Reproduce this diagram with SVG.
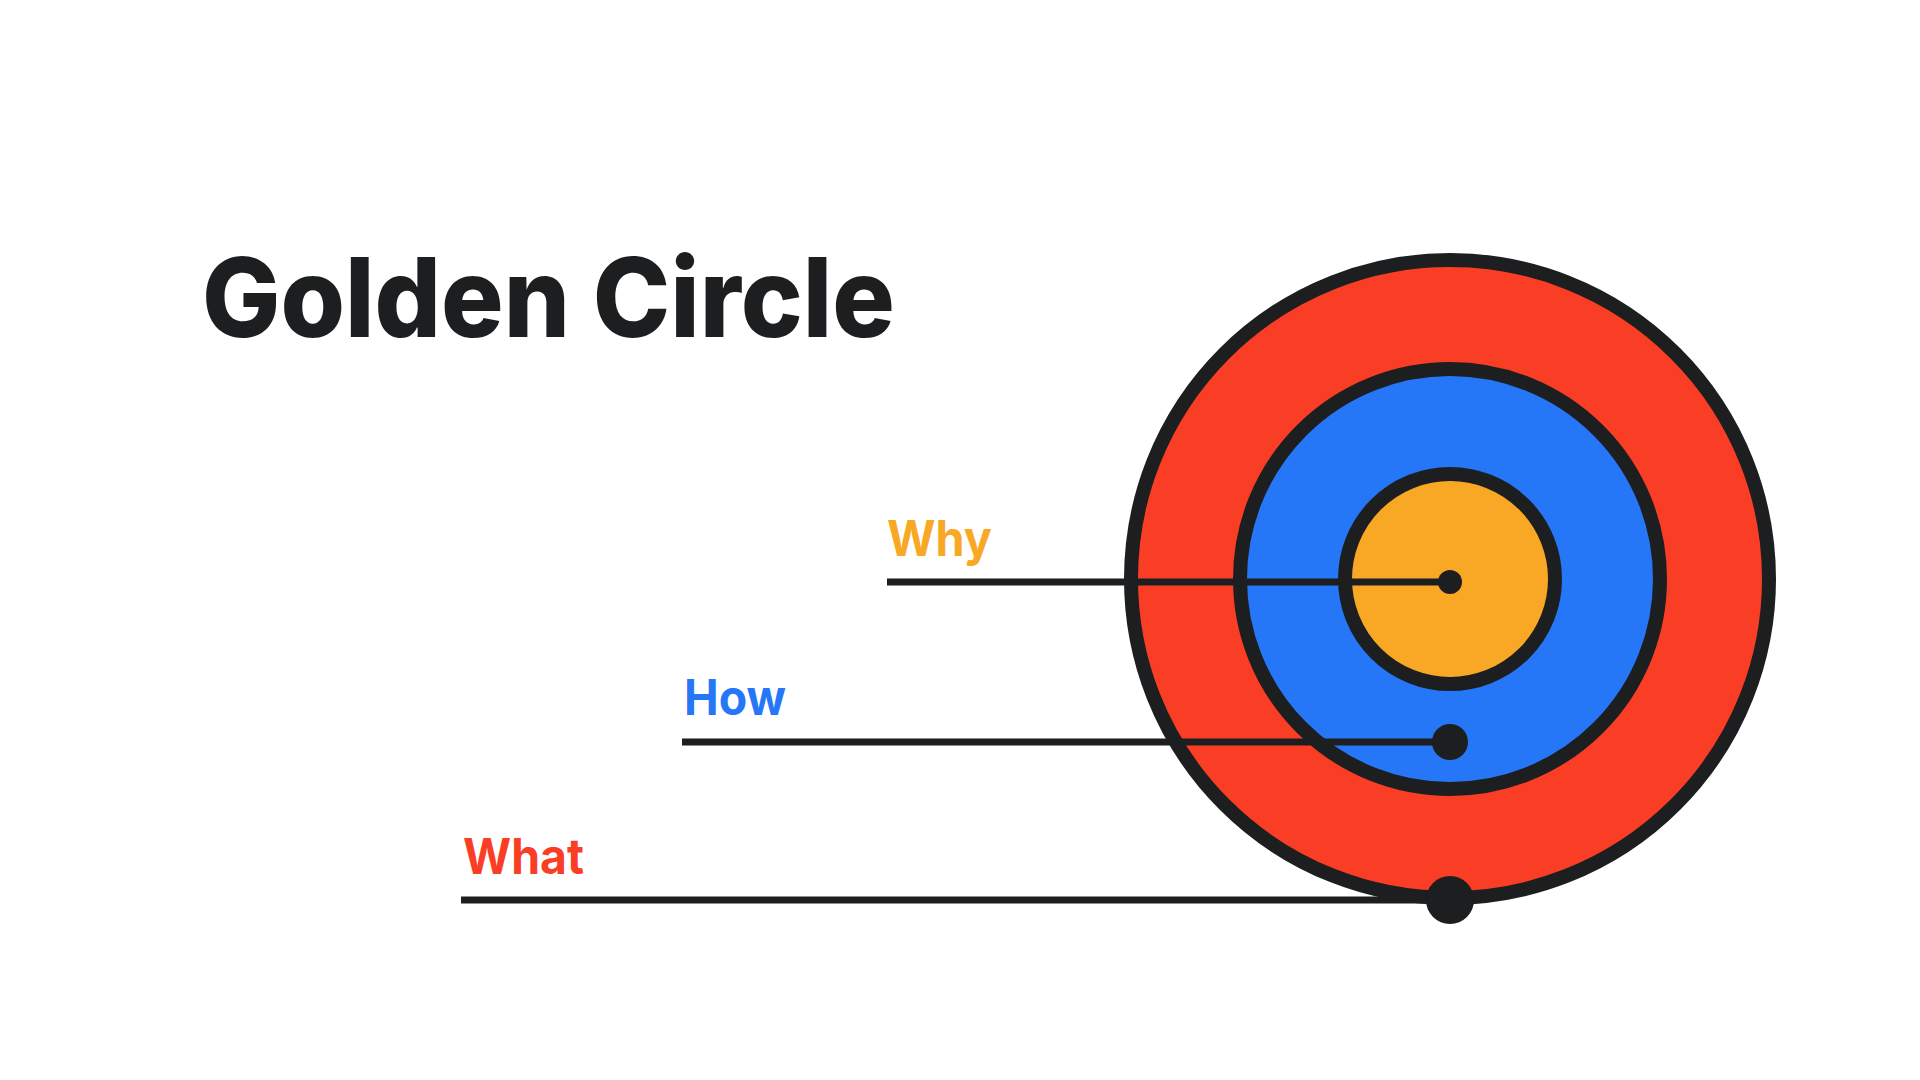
<svg xmlns="http://www.w3.org/2000/svg" width="1920" height="1080" viewBox="0 0 1920 1080">
  <style>
    .ring { stroke: #1d1e20; stroke-width: 14; }
    .conn { stroke: #1d1e20; stroke-width: 7; fill: none; }
    .dot { fill: #1d1e20; }
    .label { font-family: Inter, "Liberation Sans", Arial, sans-serif; font-weight: 700; font-size: 49px; }
    .title { font-family: Inter, "Liberation Sans", Arial, sans-serif; font-weight: 800; font-size: 110px; fill: #1d1e20; }
  </style>
  <rect width="1920" height="1080" fill="#ffffff"/>
  <g id="title">
    <text class="title" x="202" y="337" textLength="693" lengthAdjust="spacingAndGlyphs">Golden Circle</text>
  </g>
  <g id="what-circle">
    <circle class="ring" cx="1450" cy="579" r="319" fill="#fa3e26"/>
  </g>
  <g id="how-circle">
    <circle class="ring" cx="1450" cy="579" r="210" fill="#2677f8"/>
  </g>
  <g id="why-circle">
    <circle class="ring" cx="1450" cy="579" r="105" fill="#f9a825"/>
  </g>
  <g id="why-label">
    <text class="label" x="887" y="556" fill="#f9a825" textLength="105" lengthAdjust="spacingAndGlyphs">Why</text>
  </g>
  <g id="how-label">
    <text class="label" x="684" y="715" fill="#2677f8" textLength="102" lengthAdjust="spacingAndGlyphs">How</text>
  </g>
  <g id="what-label">
    <text class="label" x="463" y="874" fill="#fa3e26" textLength="121" lengthAdjust="spacingAndGlyphs">What</text>
  </g>
  <g id="connectors">
    <line class="conn" x1="887" y1="582" x2="1450" y2="582"/>
    <circle class="dot" cx="1450" cy="582" r="12"/>
    <line class="conn" x1="682" y1="742" x2="1450" y2="742"/>
    <circle class="dot" cx="1450" cy="742" r="18"/>
    <line class="conn" x1="461" y1="900" x2="1450" y2="900"/>
    <circle class="dot" cx="1450" cy="900" r="24"/>
  </g>
</svg>
